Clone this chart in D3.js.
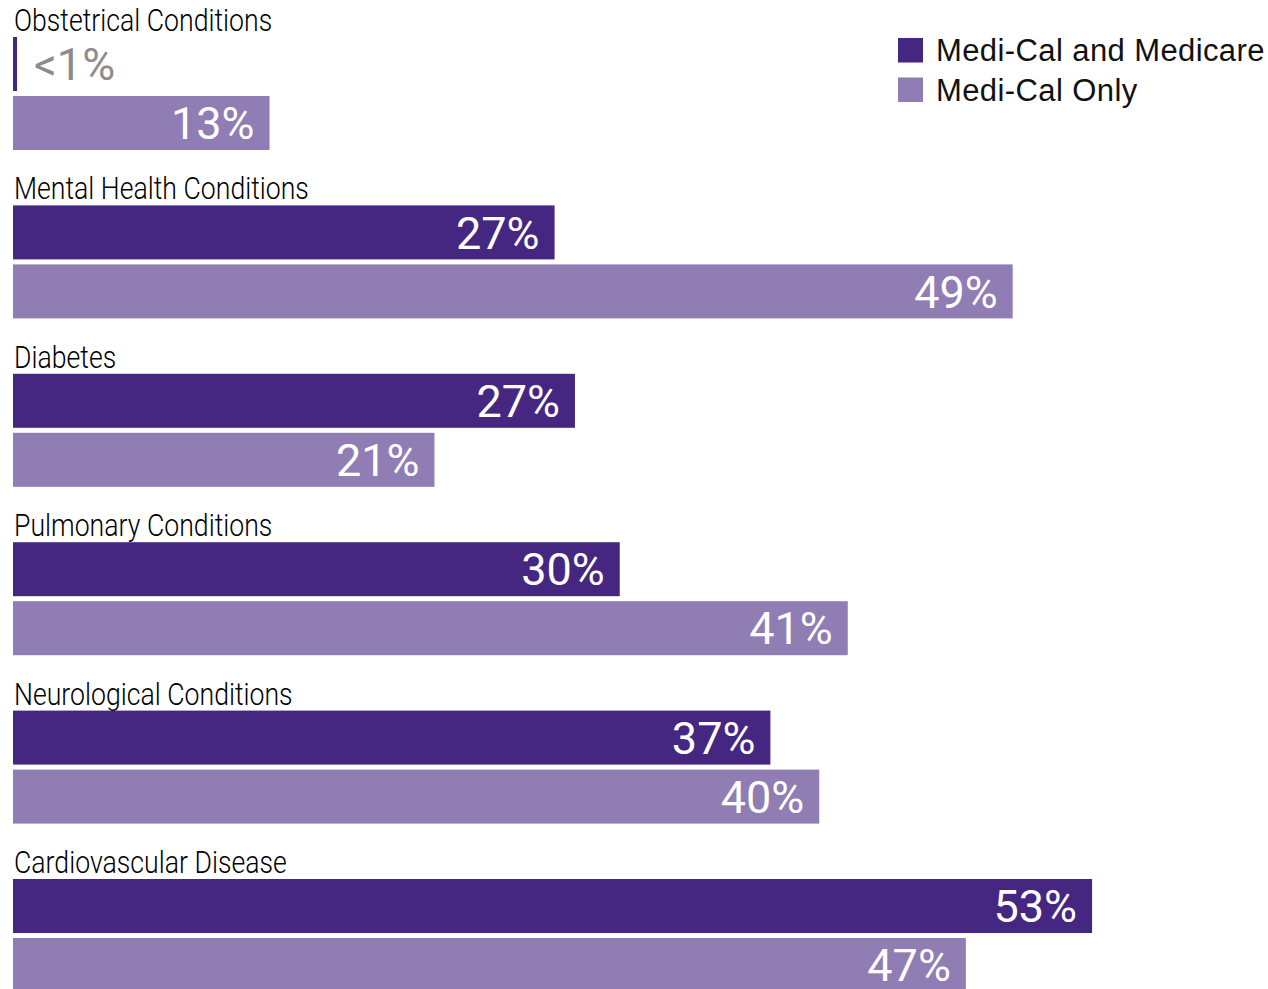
<!DOCTYPE html>
<html>
<head>
<meta charset="utf-8">
<script src="https://cdn.jsdelivr.net/npm/d3@7"></script>
<style>
  html, body { margin: 0; padding: 0; background: #fff; }
  svg { display: block; }
</style>
</head>
<body>
<div id="chart"></div>
<script>
// categories, top to bottom
const conditions = ['Obstetrical Conditions', 'Mental Health Conditions', 'Diabetes',
  'Pulmonary Conditions', 'Neurological Conditions', 'Cardiovascular Disease'];
const seriesNames = ['Medi-Cal and Medicare', 'Medi-Cal Only'];
// bar lengths (percent) and printed labels
const dualValues = [0.2, 26.6, 27.6, 29.8, 37.2, 53.0];
const onlyValues = [12.6, 49.1, 20.7, 41.0, 39.6, 46.8];
const dualLabels = ['<1%', '27%', '27%', '30%', '37%', '53%'];
const onlyLabels = ['13%', '49%', '21%', '41%', '40%', '47%'];
const colors = ['#452681', '#8f7db3'];

const width = 1268, height = 989;

const svg = d3.select('#chart').append('svg')
    .attr('width', width)
    .attr('height', height);

const x = d3.scaleLinear().domain([0, 60]).range([13, 13 + 60 * 20.36]);
const yGroup = d3.scaleBand().domain(conditions).range([37, 37 + 6 * 168.4]).paddingInner(0);
const ySeries = d3.scaleBand().domain(seriesNames).range([0, 113]).paddingInner(0.085);
const color = d3.scaleOrdinal().domain(seriesNames).range(colors);

const rows = conditions.map((c, i) => ({
  name: c,
  bars: [
    { series: seriesNames[0], value: dualValues[i], label: dualLabels[i] },
    { series: seriesNames[1], value: onlyValues[i], label: onlyLabels[i] }
  ]
}));

const groups = svg.selectAll('g.group')
    .data(rows)
    .enter().append('g')
    .attr('class', 'group')
    .attr('transform', d => 'translate(0,' + yGroup(d.name) + ')');

// condition titles (condensed look: squeeze the glyphs horizontally)
groups.append('text')
    .attr('transform', 'translate(14,-6) scale(0.86,1)')
    .attr('font-family', 'Roboto, sans-serif')
    .attr('font-weight', 300)
    .attr('font-size', 31)
    .attr('fill', '#000')
    .text(d => d.name);

const bars = groups.selectAll('g.bar')
    .data(d => d.bars)
    .enter().append('g')
    .attr('class', 'bar');

bars.append('rect')
    .attr('x', x(0))
    .attr('y', d => ySeries(d.series))
    .attr('width', d => x(d.value) - x(0))
    .attr('height', ySeries.bandwidth())
    .attr('fill', d => color(d.series));

// value labels: inside the bar end, or outside in grey when the bar is too short
const inside = d => x(d.value) - x(0) > 100;
bars.append('text')
    .attr('x', d => inside(d) ? x(d.value) - 15 : x(0) + 21)
    .attr('y', d => ySeries(d.series) + ySeries.bandwidth() / 2)
    .attr('dy', '0.36em')
    .attr('text-anchor', d => inside(d) ? 'end' : 'start')
    .attr('font-family', 'Roboto, "Liberation Sans", sans-serif')
    .attr('font-size', 45)
    .attr('fill', d => inside(d) ? '#fff' : '#8c8c8c')
    .text(d => d.label);

// legend
const legend = svg.append('g')
    .attr('transform', 'translate(898,38)');

const legendItems = legend.selectAll('g')
    .data(seriesNames)
    .enter().append('g')
    .attr('transform', (d, i) => 'translate(0,' + (i * 39.5) + ')');

legendItems.append('rect')
    .attr('width', 25)
    .attr('height', 24.5)
    .attr('fill', d => color(d));

legendItems.append('text')
    .attr('x', 38)
    .attr('y', 12)
    .attr('dy', '0.36em')
    .attr('font-family', '"Liberation Sans", Arial, sans-serif')
    .attr('font-size', 31)
    .attr('letter-spacing', 0.4)
    .attr('fill', '#111')
    .text(d => d);
</script>
</body>
</html>
